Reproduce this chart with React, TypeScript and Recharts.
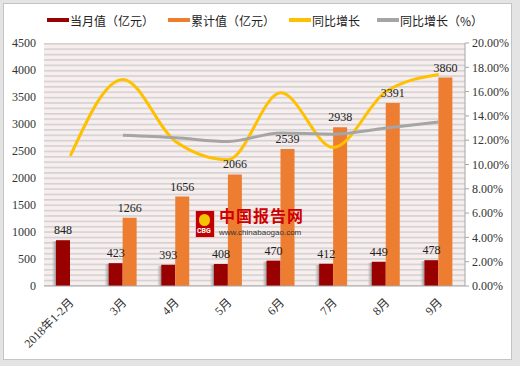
import React from "react";
import { Bar, CartesianGrid, ComposedChart, LabelList, Line, XAxis, YAxis } from "recharts";

const categories = ["2018年1-2月", "3月", "4月", "5月", "6月", "7月", "8月", "9月"];
const monthlyValue = [848, 423, 393, 408, 470, 412, 449, 478];
const cumulativeValue = [null, 1266, 1656, 2066, 2539, 2938, 3391, 3860];
const yoyGrowth = [10.7, 17.0, 11.9, 10.4, 15.9, 11.4, 16.0, 17.4];
const yoyGrowthPct = [null, 12.4, 12.2, 11.9, 12.6, 12.5, 13.0, 13.5];
const leftTicks = [0, 500, 1000, 1500, 2000, 2500, 3000, 3500, 4000, 4500];
const rightTicks = [0, 0.02, 0.04, 0.06, 0.08, 0.1, 0.12, 0.14, 0.16, 0.18, 0.2];

const data = categories.map((name, i) => ({
  name,
  monthly: monthlyValue[i],
  cumulative: cumulativeValue[i],
  growth: yoyGrowth[i] / 100,
  growthPct: yoyGrowthPct[i] == null ? null : (yoyGrowthPct[i] as number) / 100,
}));

const FONT = "'Liberation Serif', 'Noto Sans CJK SC', serif";
const CJK = "'Noto Sans CJK SC', sans-serif";

const legendItems = [
  { label: "当月值（亿元）", color: "#990000", left: 47 },
  { label: "累计值（亿元）", color: "#ED7D31", left: 168 },
  { label: "同比增长", color: "#FFC000", left: 289 },
  { label: "同比增长（%）", color: "#A5A5A5", left: 377 },
];

function XTick(props: any) {
  const { x, y, payload } = props;
  const ax = x - 2;
  const ay = y + 3;
  return (
    <text
      x={ax}
      y={ay}
      textAnchor="end"
      fontSize={12}
      fill="#333"
      fontFamily={FONT}
      transform={`rotate(-45, ${ax}, ${ay})`}
      dominantBaseline="hanging"
    >
      {payload.value}
    </text>
  );
}

function ShadowBar(props: any) {
  const { x, y, width, height, fill } = props;
  if (!height || height <= 0) return null;
  return (
    <g>
      <rect x={x - 4} y={y + 1} width={4} height={height - 1} fill="url(#barShadow)" />
      <rect x={x} y={y} width={width} height={height} fill={fill} />
    </g>
  );
}

export default function App() {
  return (
    <div style={{ position: "absolute", left: 0, top: 0, width: 520, height: 366, background: "#e4e4e4" }}>
      <div
        style={{
          position: "absolute",
          left: 3,
          top: 3,
          width: 507,
          height: 355,
          background: "#fff",
          border: "1px solid #c4c4c4",
        }}
      />
      {legendItems.map((it) => (
        <div
          key={it.label}
          style={{
            position: "absolute",
            left: it.left,
            top: 11,
            height: 18,
            display: "flex",
            alignItems: "center",
            fontFamily: CJK,
            fontSize: 12,
            color: "#222",
          }}
        >
          <span style={{ display: "inline-block", width: 22, height: 4, background: it.color, marginRight: 1 }} />
          {it.label}
        </div>
      ))}
      <div style={{ position: "absolute", left: 0, top: 0 }}>
        <ComposedChart
          width={520}
          height={366}
          data={data}
          margin={{ top: 43, right: 0, bottom: 0, left: 0 }}
          barGap={0}
        >
          <defs>
            <pattern id="stripes" patternUnits="userSpaceOnUse" x={0} y={43} width={10} height={5.38}>
              <rect x={0} y={0} width={10} height={5.38} fill="#f8eeee" />
              <rect x={0} y={0} width={10} height={1.6} fill="#d2d2d2" />
            </pattern>
            <linearGradient id="barShadow" x1="0" y1="0" x2="1" y2="0">
              <stop offset="0%" stopColor="#c8c8c8" stopOpacity={0.2} />
              <stop offset="100%" stopColor="#8a8a8a" stopOpacity={0.9} />
            </linearGradient>
          </defs>
          <CartesianGrid horizontal={false} vertical={false} fill="url(#stripes)" stroke="none" />
          <XAxis
            dataKey="name"
            height={80}
            interval={0}
            tick={<XTick />}
            tickLine={false}
            axisLine={{ stroke: "#a6a6a6" }}
          />
          <YAxis
            yAxisId="left"
            width={44}
            domain={[0, 4500]}
            ticks={leftTicks}
            axisLine={false}
            tickLine={false}
            tick={{ fontSize: 12, fill: "#333", fontFamily: FONT }}
          />
          <YAxis
            yAxisId="right"
            orientation="right"
            width={55}
            domain={[0, 0.2]}
            ticks={rightTicks}
            tickFormatter={(v: number) => (v * 100).toFixed(2) + "%"}
            axisLine={{ stroke: "#a6a6a6" }}
            tickLine={{ stroke: "#a6a6a6" }}
            tickSize={4}
            tickMargin={3}
            tick={{ fontSize: 12, fill: "#333", fontFamily: FONT, textAnchor: "start" }}
          />
          <Bar
            yAxisId="left"
            dataKey="monthly"
            fill="#990000"
            barSize={14}
            shape={<ShadowBar />}
            isAnimationActive={false}
          >
            <LabelList dataKey="monthly" position="top" offset={6} fontSize={12} fill="#222" fontFamily={FONT} />
          </Bar>
          <Bar yAxisId="left" dataKey="cumulative" fill="#ED7D31" barSize={14} isAnimationActive={false}>
            <LabelList dataKey="cumulative" position="top" offset={6} fontSize={12} fill="#222" fontFamily={FONT} />
          </Bar>
          <Line
            yAxisId="right"
            type="monotone"
            dataKey="growth"
            stroke="#FFC000"
            strokeWidth={3}
            dot={false}
            isAnimationActive={false}
          />
          <Line
            yAxisId="right"
            type="monotone"
            dataKey="growthPct"
            stroke="#A5A5A5"
            strokeWidth={3}
            dot={false}
            isAnimationActive={false}
          />
        </ComposedChart>
      </div>
      <div style={{ position: "absolute", left: 195, top: 210, width: 18, height: 26, background: "#c00000", border: "1px solid #e8c0c0" }}>
        <div style={{ position: "absolute", left: 3, top: 3, width: 11, height: 12, background: "#f5c400", borderRadius: 6 }} />
        <div style={{ position: "absolute", left: 1, top: 16, fontSize: 7, lineHeight: "8px", color: "#fff", fontFamily: "Roboto", fontWeight: 700 }}>CBG</div>
      </div>
      <div style={{ position: "absolute", left: 219, top: 207, fontFamily: CJK, fontSize: 16, lineHeight: "16px", fontWeight: 700, color: "#d00000", letterSpacing: 1 }}>
        中国报告网
      </div>
      <div style={{ position: "absolute", left: 219, top: 229, fontFamily: "'Liberation Sans', sans-serif", fontSize: 8, lineHeight: "8px", color: "#333" }}>
        www.chinabaogao.com
      </div>
    </div>
  );
}
